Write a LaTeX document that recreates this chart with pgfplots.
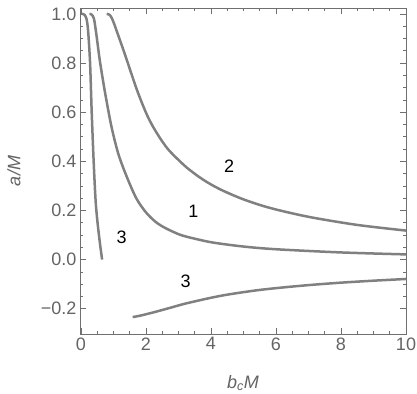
\documentclass[border=0pt]{standalone}
\usepackage{fontspec}
\setmainfont{Liberation Sans}
\usepackage{pgfplots}
\pgfplotsset{compat=1.18}
\definecolor{framegray}{RGB}{112,112,112}
\definecolor{curvegray}{RGB}{128,128,128}
\definecolor{labgray}{RGB}{100,100,100}
\tikzset{curve/.style={curvegray, line width=2.5pt, smooth, mark=none}}

\begin{document}
\begin{tikzpicture}
\useasboundingbox (-80pt,-59pt) rectangle (337pt,334pt);
\begin{axis}[
  at={(0,0)}, anchor=south west,
  scale only axis, width=326pt, height=326pt,
  xmin=-0.03, xmax=10, ymin=-0.303, ymax=1.024,
  clip=false,
  axis line style={framegray, line width=0.8pt},
  tick style={framegray, line width=0.6pt},
  tick align=inside,
  major tick length=6pt, minor tick length=3.5pt,
  xtick={0,2,...,10}, xticklabels={0,2,4,6,8,10},
  ytick={-0.2,0,0.2,0.4,0.6,0.8,1.0},
  yticklabels={−0.2,0.0,0.2,0.4,0.6,0.8,1.0},
  minor x tick num=3, minor y tick num=3,
  ticklabel style={font=\fontsize{18}{18}\selectfont, text=labgray},
]
  % curve 1
  \addplot[curve] coordinates {(0.26,1.0) (0.33,0.997) (0.40,0.98) (0.47,0.92) (0.58,0.81) (0.74,0.68)
    (0.94,0.54) (1.15,0.43) (1.4,0.34) (1.7,0.25) (2.0,0.192) (2.3,0.153) (2.6,0.128)
    (3.05,0.101) (3.5,0.085) (4.07,0.069) (5.0,0.053) (6.0,0.042) (8,0.029) (10,0.021)};
  % curve 2
  \addplot[curve] coordinates {(0.79,1.0) (0.87,0.997) (0.94,0.985) (1.02,0.96) (1.10,0.93) (1.35,0.836)
    (1.71,0.695) (2.0,0.598) (2.22,0.54) (2.5,0.481) (2.74,0.44) (3.25,0.375) (3.76,0.325)
    (4.28,0.286) (5.0,0.245) (5.82,0.21) (7,0.174) (8.5,0.141) (10,0.118)};
  % curve 3, upper branch
  \addplot[curve] coordinates {(0.03,1.0) (0.1,0.997) (0.17,0.98) (0.22,0.93) (0.28,0.8) (0.33,0.6)
    (0.39,0.4) (0.45,0.24) (0.51,0.15) (0.58,0.07) (0.65,0.0)};
  % curve 3, lower branch
  \addplot[curve] coordinates {(1.59,-0.234) (1.8,-0.229) (2.2,-0.216) (2.7,-0.198) (3.25,-0.178)
    (4.28,-0.148) (5.3,-0.127) (6.1,-0.115) (7,-0.104) (8,-0.094) (9,-0.086) (10,-0.079)};

  \node[font=\fontsize{18}{18}\selectfont] at (axis cs:4.56,0.38) {2};
  \node[font=\fontsize{18}{18}\selectfont] at (axis cs:3.46,0.197) {1};
  \node[font=\fontsize{18}{18}\selectfont] at (axis cs:1.25,0.09) {3};
  \node[font=\fontsize{18}{18}\selectfont] at (axis cs:3.22,-0.087) {3};

  \node[font=\fontsize{18}{18}\selectfont, text=labgray] at ([yshift=-49pt]rel axis cs:0.5,0)
    {\textit{b}\textsubscript{\textit{c}}\textit{M}};
  \node[font=\fontsize{18}{18}\selectfont, text=labgray, rotate=90] at ([xshift=-66pt]rel axis cs:0,0.5)
    {\textit{a/M}};
\end{axis}
\end{tikzpicture}
\end{document}
